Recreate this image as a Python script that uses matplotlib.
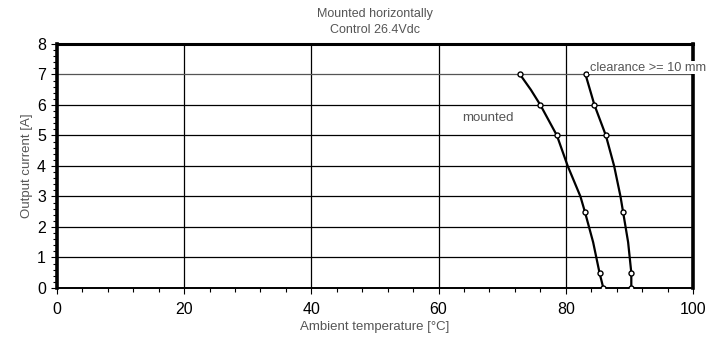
import numpy as np
import matplotlib.pyplot as plt
from matplotlib.ticker import MultipleLocator

# derating curves: ambient temperature [°C] vs output current [A]
mounted_temp = [72.8, 74.5, 76.0, 77.3, 78.6, 80.3, 82.3, 83.0, 84.3, 85.3, 85.9]
mounted_curr = [7.0, 6.5, 6.0, 5.5, 5.0, 4.0, 3.0, 2.5, 1.5, 0.5, 0.0]
mounted_marks = [0, 2, 4, 7, 9, 10]

clear_temp = [83.1, 84.5, 85.4, 86.3, 87.6, 88.6, 89.0, 89.8, 90.3, 90.3]
clear_curr = [7.0, 6.0, 5.5, 5.0, 4.0, 3.0, 2.5, 1.5, 0.5, 0.0]
clear_marks = [0, 1, 3, 6, 8, 9]

x_ticks = [0, 20, 40, 60, 80, 100]
y_ticks = [0, 1, 2, 3, 4, 5, 6, 7, 8]

txt = '#555555'
plt.rcParams['font.family'] = ['Liberation Sans', 'DejaVu Sans']

fig = plt.figure(figsize=(7.23, 3.38), dpi=100)
ax = fig.add_axes([0.0788, 0.148, 0.8797, 0.722])

for xv in x_ticks[1:-1]:
    ax.axvline(xv, color='black', lw=0.9, zorder=1)
for yv in y_ticks[1:-1]:
    ax.axhline(yv, color='#555555' if yv == 7 else 'black', lw=0.9, zorder=1)

ax.plot(mounted_temp, mounted_curr, '-', color='black', lw=1.6,
        marker='o', markersize=3.6, markerfacecolor='white', markeredgewidth=1.0,
        markevery=mounted_marks, zorder=3)
ax.plot(clear_temp, clear_curr, '-', color='black', lw=1.6,
        marker='o', markersize=3.6, markerfacecolor='white', markeredgewidth=1.0,
        markevery=clear_marks, zorder=3)

ax.set_xlim(0, 100)
ax.set_ylim(0, 8)
ax.set_xticks(x_ticks)
ax.set_yticks(y_ticks)
ax.xaxis.set_minor_locator(MultipleLocator(4))
ax.yaxis.set_minor_locator(MultipleLocator(0.2))
ax.tick_params(axis='both', which='major', labelsize=11.5, length=4, width=0.8, direction='out')
ax.tick_params(axis='both', which='minor', length=3, width=0.8, direction='out')
ax.tick_params(axis='x', pad=6)
ax.tick_params(axis='y', pad=4)

for side, w in [('left', 2.6), ('right', 2.6), ('top', 2.2), ('bottom', 1.4)]:
    ax.spines[side].set_linewidth(w)

ax.set_xlabel('Ambient temperature [°C]', fontsize=9.5, color=txt, labelpad=3)
ax.set_ylabel('Output current [A]', fontsize=9.5, color=txt, labelpad=3)
ax.set_title('Mounted horizontally\nControl 26.4Vdc', fontsize=9, color=txt,
             linespacing=1.4, pad=8)

ax.text(67.8, 5.57, 'mounted', fontsize=9.5, color=txt, ha='center', va='center', zorder=4)
ax.text(83.8, 7.22, 'clearance >= 10 mm', fontsize=9.2, color=txt, ha='left', va='center',
        clip_on=False, zorder=5,
        bbox=dict(facecolor='white', edgecolor='none', pad=0.5))

fig.savefig('out.png', dpi=100)
